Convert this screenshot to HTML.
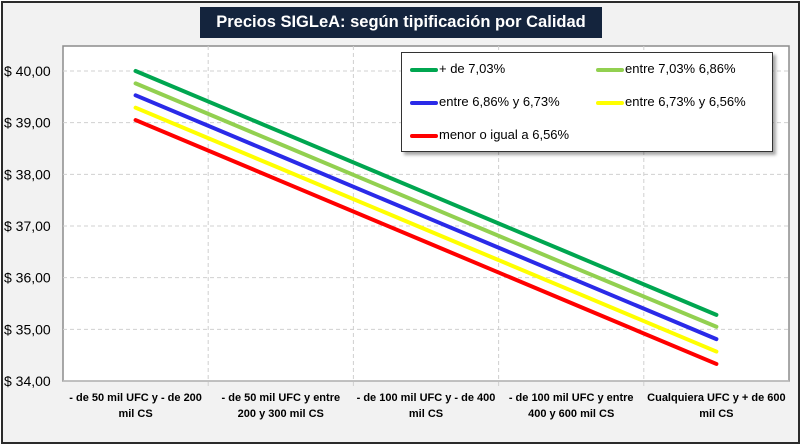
<!DOCTYPE html>
<html><head><meta charset="utf-8">
<style>
html,body{margin:0;padding:0;background:#fff;}
#wrap{position:relative;width:800px;height:444px;overflow:hidden;background:#fff;font-family:"Liberation Sans",Calibri,sans-serif;}
#frame{position:absolute;left:1px;top:1px;width:795px;height:439px;border:2px solid #2b2b2b;background:#f2f2f2;}
#title{position:absolute;left:200px;top:7px;width:402px;height:31px;background:#14243d;color:#fff;font-weight:bold;font-size:16.5px;line-height:31px;text-align:center;white-space:nowrap;}
#legend{position:absolute;left:401px;top:52px;width:370px;height:98px;background:#fff;border:1px solid #333;box-shadow:3px 3px 3px rgba(0,0,0,0.35);}
.le{position:absolute;font-size:13px;color:#000;height:20px;line-height:20px;white-space:nowrap;}
.le span.sw{display:inline-block;width:28px;height:4px;vertical-align:middle;margin-right:1px;border-radius:2px;}
</style></head>
<body>
<div id="wrap">
<div id="frame"></div>
<svg id="chart" width="800" height="444" style="position:absolute;left:0;top:0"></svg>
<div id="title">Precios SIGLeA: según tipificación por Calidad</div>
<div id="legend">
 <div class="le" style="left:8px;top:6px"><span class="sw" style="background:#00a650"></span>+ de 7,03%</div>
 <div class="le" style="left:194px;top:6px"><span class="sw" style="background:#92d050"></span>entre 7,03% 6,86%</div>
 <div class="le" style="left:8px;top:39px"><span class="sw" style="background:#2a2ae8"></span>entre 6,86% y 6,73%</div>
 <div class="le" style="left:194px;top:39px"><span class="sw" style="background:#ffff00"></span>entre 6,73% y 6,56%</div>
 <div class="le" style="left:8px;top:72px"><span class="sw" style="background:#ff0000"></span>menor o igual a 6,56%</div>
</div>
</div>
<script>
const categories = [["- de 50 mil UFC y - de 200","mil CS"],["- de 50 mil UFC y entre","200 y 300 mil CS"],["- de 100 mil UFC y - de 400","mil CS"],["- de 100 mil UFC y entre","400 y 600 mil CS"],["Cualquiera UFC y + de 600","mil CS"]];
const yTicks = [34,35,36,37,38,39,40];
const yTickLabels = ["$ 34,00","$ 35,00","$ 36,00","$ 37,00","$ 38,00","$ 39,00","$ 40,00"];
const seriesGreen = [40.00,38.82,37.64,36.46,35.28];
const seriesLightGreen = [39.76,38.58,37.40,36.22,35.05];
const seriesBlue = [39.53,38.35,37.17,35.99,34.81];
const seriesYellow = [39.29,38.11,36.93,35.75,34.57];
const seriesRed = [39.05,37.87,36.69,35.51,34.33];
const seriesList = [
 {name:"mas-7-03",vals:seriesGreen,color:"#00a650"},
 {name:"7-03-6-86",vals:seriesLightGreen,color:"#92d050"},
 {name:"6-86-6-73",vals:seriesBlue,color:"#2a2ae8"},
 {name:"6-73-6-56",vals:seriesYellow,color:"#ffff00"},
 {name:"menor-6-56",vals:seriesRed,color:"#ff0000"}
];
const NS="http://www.w3.org/2000/svg";
const svg=document.getElementById('chart');
const L=63,R=789,T=46,B=381,yMin=34,yMax=40,yTopPx=71;
const band=(R-L)/categories.length;
function xs(i){return L+band*(i+0.5);}
function ys(v){return B-(v-yMin)*(B-yTopPx)/(yMax-yMin);}
function mk(tag,attrs){const e=document.createElementNS(NS,tag);for(const k in attrs)e.setAttribute(k,attrs[k]);svg.appendChild(e);return e;}
const pa=mk('rect',{x:L,y:T,width:R-L,height:B-T,fill:'#fff',stroke:'#8c8c8c','stroke-width':1.5});


yTicks.forEach((t,i)=>{
 const y=ys(t);
 if(i>0){const g=mk('line',{x1:L,x2:R,y1:y,y2:y,stroke:'#d0d0d0','stroke-dasharray':'4,3'});
 
 }
 const tx=mk('text',{x:4,y:y+5,'font-size':14,fill:'#000','font-family':'Liberation Sans, sans-serif'});
 tx.textContent=yTickLabels[i];
 
 
});
for(let i=1;i<categories.length;i++){
 const x=L+band*i;
 const g=mk('line',{x1:x,x2:x,y1:T,y2:B+6,stroke:'#d0d0d0','stroke-dasharray':'4,3'});
 
 
}
const ax=mk('line',{x1:L,x2:R,y1:B,y2:B,stroke:'#bfbfbf','stroke-width':1.5});


categories.forEach((c,i)=>{
 c.forEach((ln,j)=>{
  const tx=mk('text',{x:xs(i),y:401+j*16,'font-size':11,'font-weight':'bold','text-anchor':'middle',fill:'#000','font-family':'Liberation Sans, sans-serif'});
  tx.textContent=ln;
  
  
 });
});
seriesList.forEach(s=>{
 const pts=s.vals.map((v,i)=>xs(i)+','+ys(v)).join(' ');
 const p=mk('polyline',{points:pts,fill:'none',stroke:s.color,'stroke-width':4,'stroke-linecap':'round','stroke-linejoin':'round'});
 
 
});
</script>
</body></html>
